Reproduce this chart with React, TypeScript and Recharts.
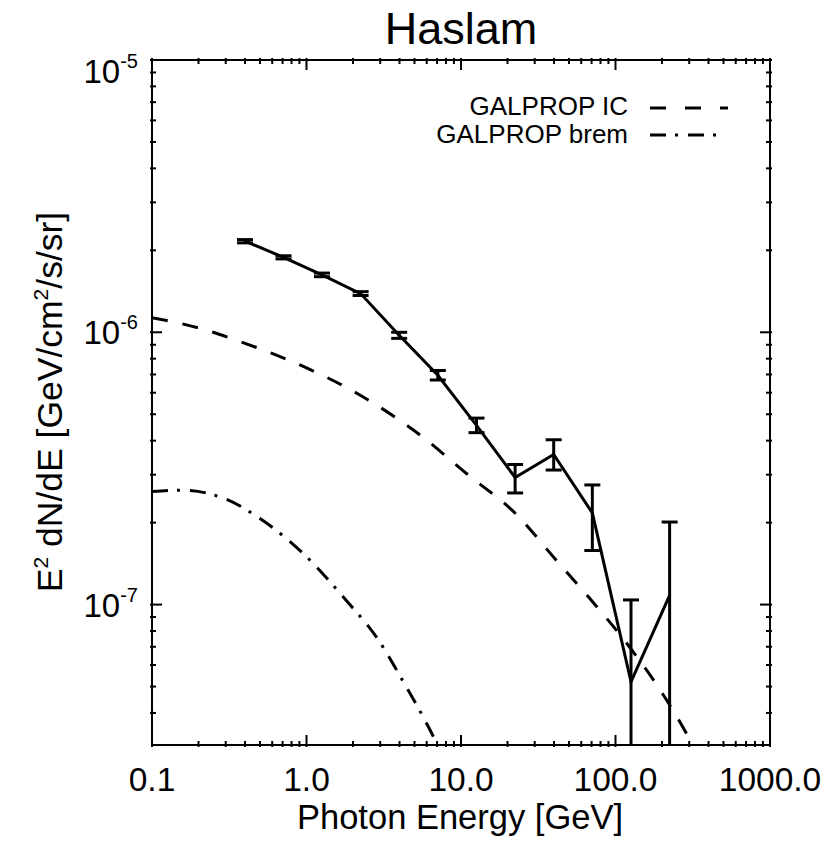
import React from "react";
import { ComposedChart, Line, XAxis, YAxis, ErrorBar } from "recharts";

const FONT = '"Liberation Sans", Arial, Helvetica, sans-serif';

// measured spectrum (Haslam template)
const energies = [0.4, 0.71, 1.26, 2.24, 3.98, 7.08, 12.6, 22.4, 39.8, 70.8, 126, 224];
const flux = [2.16e-6, 1.886e-6, 1.626e-6, 1.387e-6, 9.75e-7, 6.95e-7, 4.55e-7, 2.93e-7, 3.56e-7, 2.17e-7, 5.2e-8, 1.08e-7];
const fluxLow = [2.13e-6, 1.86e-6, 1.6e-6, 1.365e-6, 9.5e-7, 6.68e-7, 4.28e-7, 2.57e-7, 3.12e-7, 1.58e-7, 1e-8, 1e-8];
const fluxHigh = [2.19e-6, 1.91e-6, 1.65e-6, 1.41e-6, 1.0e-6, 7.24e-7, 4.84e-7, 3.27e-7, 4.03e-7, 2.75e-7, 1.04e-7, 2.01e-7];

// GALPROP inverse Compton model
const icEnergies = [0.1, 0.21, 0.342, 0.853, 2.13, 5.3, 11, 22.9, 42, 68.5, 126, 193, 295, 400];
const icFlux = [1.13e-6, 1.03e-6, 9.4e-7, 7.7e-7, 5.96e-7, 4.24e-7, 3.01e-7, 2.14e-7, 1.44e-7, 1.05e-7, 6.87e-8, 4.89e-8, 3.28e-8, 2.36e-8];

// GALPROP bremsstrahlung model
const bremEnergies = [0.1, 0.155, 0.285, 0.525, 0.964, 1.77, 2.88, 4.16, 5.64, 6.85, 8.0];
const bremFlux = [2.6e-7, 2.63e-7, 2.47e-7, 2.03e-7, 1.53e-7, 1.05e-7, 7.5e-8, 5.3e-8, 3.9e-8, 3.14e-8, 2.5e-8];

const xDomain = [0.1, 1000];
const yDomain = [3.05e-8, 1e-5];
const mantissas = [1, 2, 3, 4, 5, 6, 7, 8, 9];
const xDecades = [0.1, 1, 10, 100];
const yDecades = [1e-8, 1e-7, 1e-6];
const xTicks = [...xDecades.flatMap((d) => mantissas.map((m) => +(m * d).toPrecision(3))), 1000];
const yTicks = [...yDecades.flatMap((d) => mantissas.map((m) => +(m * d).toPrecision(3))), 1e-5].filter(
  (v) => v >= yDomain[0]
);

const points = energies.map((e, i) => ({
  e,
  v: flux[i],
  err: [flux[i] - fluxLow[i], fluxHigh[i] - flux[i]],
}));
const icData = icEnergies.map((e, i) => ({ e, v: icFlux[i] }));
const bremData = bremEnergies.map((e, i) => ({ e, v: bremFlux[i] }));

const isMajor = (v: number) => Math.abs(Math.log10(v) - Math.round(Math.log10(v))) < 1e-6;

function XTick(props: any) {
  const { x, y, payload, side } = props;
  const major = isMajor(payload.value);
  const len = major ? 12 : 6;
  const dir = side === "bottom" ? -1 : 1;
  return (
    <g>
      <line x1={x} y1={y} x2={x} y2={y + dir * len} stroke="#000" strokeWidth={2} />
      {side === "bottom" && major && (
        <text x={x} y={y + 44} textAnchor="middle" fontSize={33.5} fontFamily={FONT} fill="#000">
          {payload.value.toFixed(1)}
        </text>
      )}
    </g>
  );
}

function YTick(props: any) {
  const { x, y, payload, side } = props;
  const major = isMajor(payload.value);
  const len = major ? 12 : 6;
  const dir = side === "left" ? 1 : -1;
  const exp = Math.round(Math.log10(payload.value));
  // the top label is pushed down inside the page like the original
  const shift = exp === -5 ? 11 : 0;
  return (
    <g>
      <line x1={x} y1={y} x2={x + dir * len} y2={y} stroke="#000" strokeWidth={2} />
      {side === "left" && major && (
        <text x={x - 12} y={y + 12 + shift} textAnchor="end" fontSize={33} fontFamily={FONT} fill="#000">
          <tspan>10</tspan>
          <tspan dy={-15} fontSize={20}>{exp}</tspan>
        </text>
      )}
    </g>
  );
}

export default function App() {
  return (
    <div style={{ position: "absolute", left: 0, top: 0, width: 835, height: 842, background: "#fff" }}>
      <svg width={0} height={0} style={{ position: "absolute" }}>
        <defs>
          <clipPath id="plotClip" clipPathUnits="userSpaceOnUse">
            <rect x={148} y={56} width={626} height={689} />
          </clipPath>
        </defs>
      </svg>
      <ComposedChart width={835} height={842} margin={{ top: 59, right: 64, bottom: 0, left: 0 }}>
        <XAxis
          xAxisId="b"
          type="number"
          dataKey="e"
          scale="log"
          domain={xDomain}
          allowDataOverflow
          ticks={xTicks}
          interval={0}
          height={97}
          tickSize={0}
          tickLine={false}
          axisLine={{ stroke: "#000", strokeWidth: 2 }}
          tick={<XTick side="bottom" />}
        />
        <XAxis
          xAxisId="t"
          orientation="top"
          type="number"
          dataKey="e"
          scale="log"
          domain={xDomain}
          allowDataOverflow
          ticks={xTicks}
          interval={0}
          height={1}
          tickSize={0}
          tickLine={false}
          axisLine={{ stroke: "#000", strokeWidth: 2 }}
          tick={<XTick side="top" />}
        />
        <YAxis
          yAxisId="l"
          type="number"
          scale="log"
          domain={yDomain}
          allowDataOverflow
          ticks={yTicks}
          interval={0}
          width={152}
          tickSize={0}
          tickLine={false}
          axisLine={{ stroke: "#000", strokeWidth: 2 }}
          tick={<YTick side="left" />}
        />
        <YAxis
          yAxisId="r"
          orientation="right"
          type="number"
          scale="log"
          domain={yDomain}
          allowDataOverflow
          ticks={yTicks}
          interval={0}
          width={1}
          tickSize={0}
          tickLine={false}
          axisLine={{ stroke: "#000", strokeWidth: 2 }}
          tick={<YTick side="right" />}
        />
        <Line
          xAxisId="b"
          yAxisId="l"
          data={icData}
          dataKey="v"
          type="monotone"
          stroke="#000"
          strokeWidth={3}
          strokeDasharray="16 15"
          dot={false}
          isAnimationActive={false}
        />
        <Line
          xAxisId="b"
          yAxisId="l"
          data={bremData}
          dataKey="v"
          type="monotone"
          stroke="#000"
          strokeWidth={3}
          strokeDasharray="16 9 3 10"
          dot={false}
          isAnimationActive={false}
        />
        <Line
          xAxisId="b"
          yAxisId="l"
          data={points}
          dataKey="v"
          type="linear"
          stroke="#000"
          strokeWidth={3}
          dot={false}
          isAnimationActive={false}
        >
          <ErrorBar
            dataKey="err"
            direction="y"
            width={8}
            stroke="#000"
            strokeWidth={3}
            clipPath="url(#plotClip)"
          />
        </Line>
      </ComposedChart>
      <svg width={835} height={842} style={{ position: "absolute", left: 0, top: 0, pointerEvents: "none" }}>
        <text x={461} y={44} textAnchor="middle" fontSize={45} fontFamily={FONT}>
          Haslam
        </text>
        <text x={460} y={829} textAnchor="middle" fontSize={34.5} fontFamily={FONT}>
          Photon Energy [GeV]
        </text>
        <text
          transform="translate(62,402) rotate(-90)"
          textAnchor="middle"
          fontSize={35.5}
          fontFamily={FONT}
        >
          <tspan>E</tspan>
          <tspan dy={-14} fontSize={21}>2</tspan>
          <tspan dy={14}> dN/dE [GeV/cm</tspan>
          <tspan dy={-14} fontSize={21}>2</tspan>
          <tspan dy={14}>/s/sr]</tspan>
        </text>
        <text x={628} y={115} textAnchor="end" fontSize={26} fontFamily={FONT}>
          GALPROP IC
        </text>
        <line x1={650} y1={108} x2={728} y2={108} stroke="#000" strokeWidth={3} strokeDasharray="16 19" />
        <text x={628} y={143} textAnchor="end" fontSize={26} fontFamily={FONT}>
          GALPROP brem
        </text>
        <line x1={650} y1={135} x2={720} y2={135} stroke="#000" strokeWidth={3} strokeDasharray="16 9 3 10" />
      </svg>
    </div>
  );
}
